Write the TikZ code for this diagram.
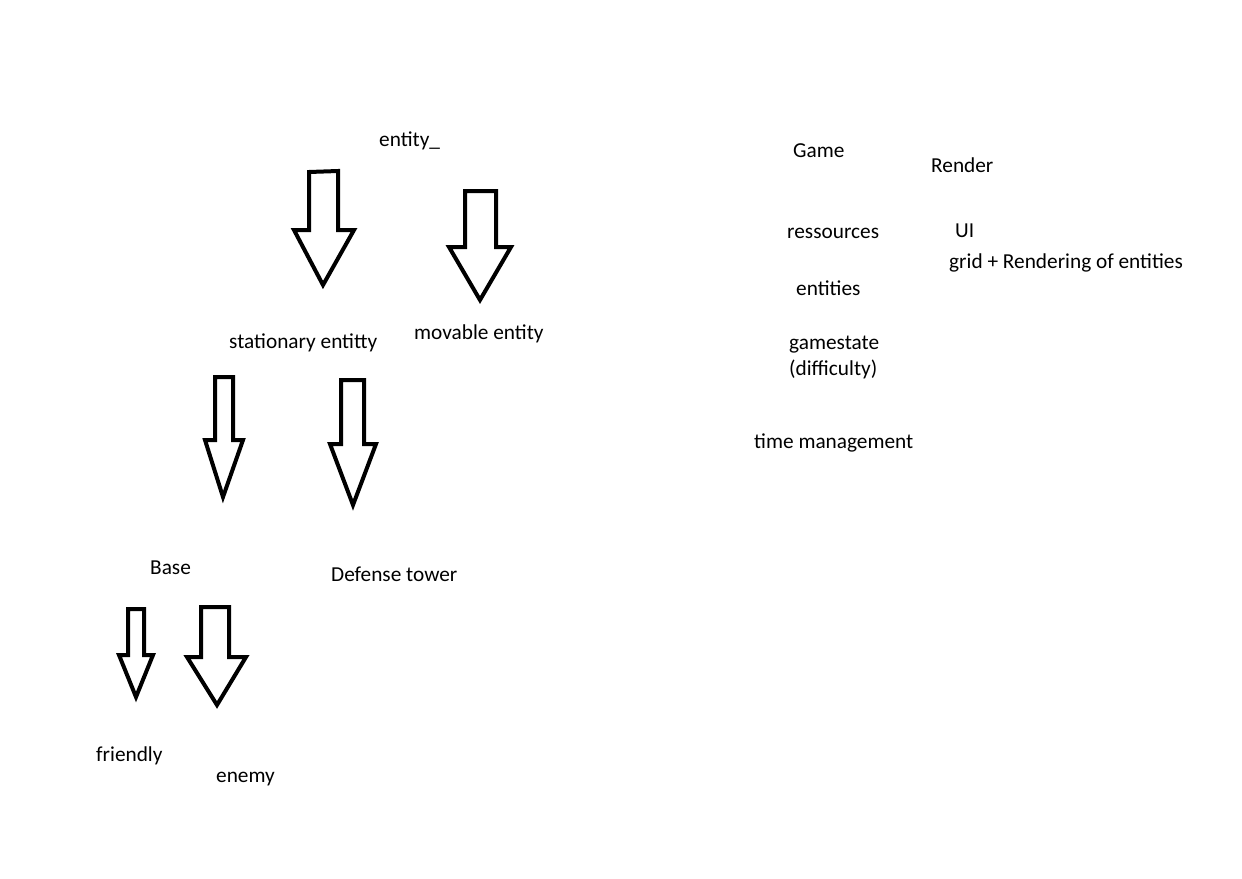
\documentclass[tikz,border=0pt]{standalone}
\usepackage{fontspec}
\setmainfont{Carlito}
\begin{document}
\begin{tikzpicture}[x=1pt, y=-1pt,
    label/.style={inner sep=0pt, anchor=base west, font=\fontsize{21.3}{26}\selectfont},
    blockarrow/.style={draw=black, line width=4pt, fill=white}]
    \useasboundingbox (0,0) rectangle (1242,878);

    % Vererbung der Entitäten
    \node[label] (entity) at (379,146) {entity\_};
    \node[label] (stationary) at (229,348) {stationary entitty};
    \node[label] (movable) at (414,339) {movable entity};
    \node[label] (base) at (150,574) {Base};
    \node[label] (tower) at (331,581) {Defense tower};
    \node[label] (friendly) at (96,761) {friendly};
    \node[label] (enemy) at (216,782) {enemy};

    % Blockpfeile
    \draw[blockarrow] (309,172) -- (309,230) -- (294,230) -- (323,285) -- (354,230) -- (338,230) -- (338,171) -- cycle;
    \draw[blockarrow] (465,191) -- (465,247) -- (449,247) -- (480,300) -- (511,247) -- (496,247) -- (496,191) -- cycle;
    \draw[blockarrow] (215,377) -- (215,440) -- (205,440) -- (223,497) -- (243,440) -- (233,440) -- (233,377) -- cycle;
    \draw[blockarrow] (341,380) -- (341,444) -- (330,444) -- (353,505) -- (376,444) -- (364,444) -- (364,380) -- cycle;
    \draw[blockarrow] (128,609) -- (128,655) -- (119,655) -- (136,697) -- (153,655) -- (144,655) -- (144,609) -- cycle;
    \draw[blockarrow] (201,607) -- (201,657) -- (187,657) -- (217,705) -- (246,657) -- (229,657) -- (229,607) -- cycle;

    % Game
    \node[label] (game) at (793,157) {Game};
    \node[label] (res) at (787,238) {ressources};
    \node[label] (entities) at (796,295) {entities};
    \node[label, align=left] (gamestate) at (789,375) {gamestate\\(difficulty)};
    \node[label] (time) at (754,448) {time management};

    % Render
    \node[label] (render) at (931,172) {Render};
    \node[label] (ui) at (955,237) {UI};
    \node[label] (grid) at (949,268) {grid + Rendering of entities};
\end{tikzpicture}
\end{document}
